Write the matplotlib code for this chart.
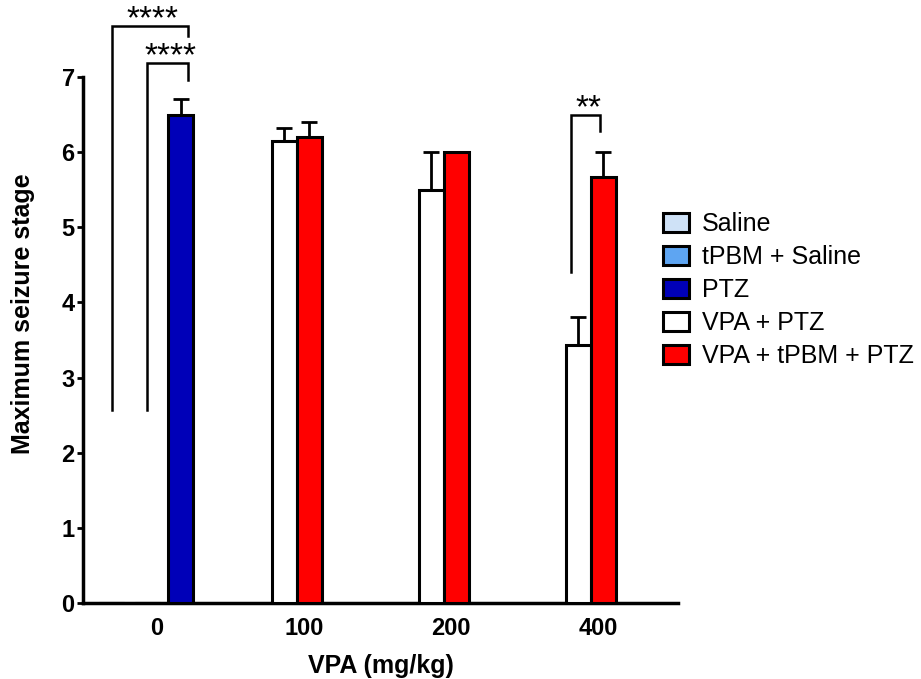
import matplotlib.pyplot as plt
import numpy as np

plt.rcParams['font.family'] = ['Liberation Sans', 'DejaVu Sans']
fz = 17

doses = ['0', '100', '200', '400']
labels = ['Saline', 'tPBM + Saline', 'PTZ', 'VPA + PTZ', 'VPA + tPBM + PTZ']
colors = ['#cfe2f7', '#5ea5f2', '#0000b8', '#ffffff', '#ff0000']

# mean / SEM per dose group (None = not tested at that dose)
saline_mean = [0, None, None, None]
saline_sem = [0, None, None, None]
tpbm_saline_mean = [0, None, None, None]
tpbm_saline_sem = [0, None, None, None]
ptz_mean = [6.5, None, None, None]
ptz_sem = [0.21, None, None, None]
vpa_ptz_mean = [None, 6.15, 5.5, 3.43]
vpa_ptz_sem = [None, 0.17, 0.5, 0.37]
vpa_tpbm_ptz_mean = [None, 6.2, 6.0, 5.67]
vpa_tpbm_ptz_sem = [None, 0.2, 0.0, 0.33]

means = [saline_mean, tpbm_saline_mean, ptz_mean, vpa_ptz_mean, vpa_tpbm_ptz_mean]
sems = [saline_sem, tpbm_saline_sem, ptz_sem, vpa_ptz_sem, vpa_tpbm_ptz_sem]

# significance: (left series, right series, group, bracket top, left leg end, right leg end, stars)
sig = [
    (0, 2, 0, 7.68, 2.57, 7.54, '****'),
    (1, 2, 0, 7.18, 2.57, 6.96, '****'),
    (3, 4, 3, 6.50, 4.41, 6.28, '**'),
]

offsets = [-0.306, -0.065, 0.163, -0.135, 0.035]
width = 0.17

fig = plt.figure(figsize=(9.21, 6.79), dpi=100)
ax = fig.add_axes([83 / 921, 1 - 603 / 679, 595 / 921, 526 / 679])

handles = []
for k in range(len(labels)):
    xs, ys, es = [], [], []
    for g in range(len(doses)):
        if means[k][g] is not None:
            xs.append(g + offsets[k])
            ys.append(means[k][g])
            es.append(sems[k][g])
    b = ax.bar(xs, ys, width, color=colors[k], edgecolor='k', linewidth=2.2, zorder=3)
    handles.append(b)
    es = np.array(es)
    ax.errorbar(xs, ys, yerr=[np.zeros_like(es), es], fmt='none', ecolor='k',
                elinewidth=2, capsize=6, capthick=2, zorder=2)


def pos(k, g):
    return g + offsets[k]


for left, right, g, ytop, yl, yr, txt in sig:
    xl = pos(left, g)
    xr = pos(right, g) + 0.045
    if g == 3:
        xl -= 0.05
        xr -= 0.065
    ax.plot([xl, xl, xr, xr], [yl, ytop, ytop, yr], color='k', lw=1.8,
            clip_on=False, zorder=4, solid_joinstyle='miter')
    ax.text((xl + xr) / 2 + 0.02, ytop - 0.03, txt, ha='center', va='baseline',
            fontsize=24, clip_on=False)

ax.set_xlim(-0.503, 3.544)
ax.set_ylim(0, 7)
ax.set_xticks(range(len(doses)))
ax.set_xticklabels(doses)
ax.set_yticks(range(0, 8))
ax.tick_params(axis='x', length=0, pad=10, labelsize=fz)
ax.tick_params(axis='y', length=4, width=2, pad=2, labelsize=fz)
for t in ax.get_xticklabels() + ax.get_yticklabels():
    t.set_fontweight('bold')

ax.set_xlabel('VPA (mg/kg)', fontsize=18, fontweight='bold', labelpad=10)
ax.set_ylabel('Maximum seizure stage', fontsize=18, fontweight='bold', labelpad=19, y=0.55)

ax.spines['right'].set_visible(False)
ax.spines['top'].set_visible(False)
ax.spines['left'].set_linewidth(2.5)
ax.spines['bottom'].set_linewidth(2.5)

fig.legend(handles, labels, loc='upper left', bbox_to_anchor=(663 / 921, 1 - 212 / 679),
           frameon=False, fontsize=18, handlelength=1.05, handleheight=0.8,
           handletextpad=0.5, labelspacing=0.36, borderaxespad=0, borderpad=0)

fig.savefig('out.png', dpi=100)
plt.close()
